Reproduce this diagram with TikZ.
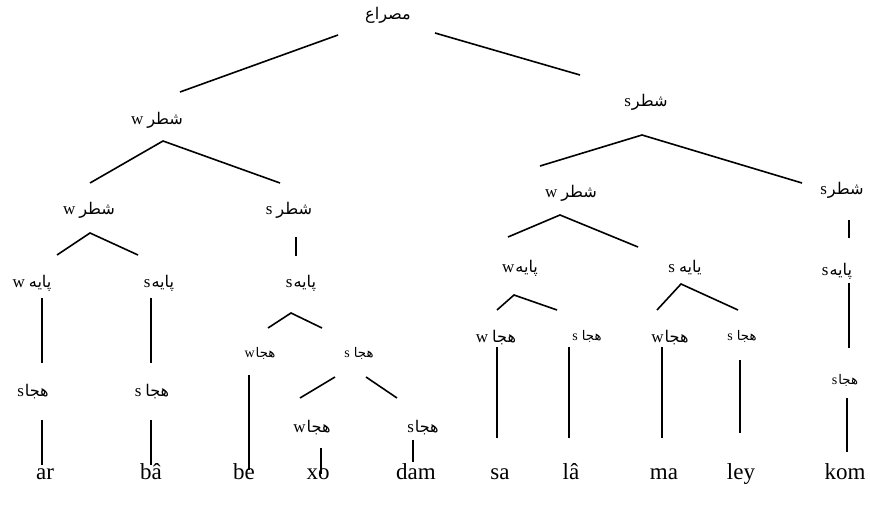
\documentclass[tikz,border=0pt]{standalone}
\usepackage{fontspec}
\setmainfont{Liberation Serif}
\newfontfamily\arfont[Script=Arabic,Scale=0.95]{DejaVu Sans}
\TeXXeTstate=1
\newcommand\lab[2]{#1\hspace{4pt}{\arfont\beginR #2\endR}}
\newcommand\labt[2]{#1\hspace{1pt}{\arfont\beginR #2\endR}}
\begin{document}
\begin{tikzpicture}[x=1pt,y=-1pt,
  lbl/.style={inner sep=0pt, font=\fontsize{17}{20}\selectfont},
  sml/.style={inner sep=0pt, font=\fontsize{14}{16}\selectfont},
  word/.style={inner sep=0pt, anchor=base, font=\fontsize{23}{27}\selectfont},
  edge/.style={line width=1.6pt}]
\useasboundingbox (0,0) rectangle (870,505);
% labels
\node[lbl] (M) at (388,15) {{\arfont\beginR مصراع\endR}};
\node[lbl] (SW) at (157,120) {\lab{w}{شطر}};
\node[lbl] (SS) at (646,102) {\labt{s}{شطر}};
\node[lbl] (SWW) at (89,210) {\lab{w}{شطر}};
\node[lbl] (SWS) at (289,210) {\lab{s}{شطر}};
\node[lbl] (SSW) at (571,193) {\lab{w}{شطر}};
\node[lbl] (SSS) at (842,190) {\labt{s}{شطر}};
\node[lbl] (P1) at (32,283) {\lab{w}{پایه}};
\node[lbl] (P2) at (159,283) {\labt{s}{پایه}};
\node[lbl] (P3) at (301,283) {\labt{s}{پایه}};
\node[lbl] (P4) at (520,268) {\labt{w}{پایه}};
\node[lbl] (P5) at (685,268) {\lab{s}{یایه}};
\node[lbl] (P6) at (837,271) {\labt{s}{پایه}};
\node[lbl] (H1) at (33,392) {\labt{s}{هجا}};
\node[lbl] (H2) at (152,392) {\lab{s}{هجا}};
\node[sml] (H3) at (260,353) {\labt{w}{هجا}};
\node[sml] (H4) at (359,353) {\lab{s}{هجا}};
\node[lbl] (H5) at (312,428) {\labt{w}{هجا}};
\node[lbl] (H6) at (423,428) {\labt{s}{هجا}};
\node[lbl] (H7) at (496,338) {\lab{w}{هجا}};
\node[sml] (H8) at (587,336) {\lab{s}{هجا}};
\node[lbl] (H9) at (670,338) {\labt{w}{هجا}};
\node[sml] (H10) at (742,336) {\lab{s}{هجا}};
\node[sml] (H11) at (845,380) {\labt{s}{هجا}};
% words
\node[word] (ar) at (45,479) {ar};
\node[word] (ba) at (151,479) {bâ};
\node[word] (be) at (244,479) {be};
\node[word] (xo) at (318,479) {xo};
\node[word] (dam) at (416,479) {dam};
\node[word] (sa) at (500,479) {sa};
\node[word] (la) at (571,479) {lâ};
\node[word] (ma) at (664,479) {ma};
\node[word] (ley) at (741,479) {ley};
\node[word] (kom) at (845,479) {kom};
% connectors
\draw[edge] (338,35) coordinate (M-l) -- (180,92) coordinate (SW-t);
\draw[edge] (435,33) coordinate (M-r) -- (580,75) coordinate (SS-t);
\draw[edge] (90,183) coordinate (SWW-t) -- (163,141) coordinate (SW-b) -- (280,183) coordinate (SWS-t);
\draw[edge] (540,166) coordinate (SSW-t) -- (642,135) coordinate (SS-b) -- (802,183) coordinate (SSS-t);
\draw[edge] (57,255) coordinate (P1-t) -- (90,233) coordinate (SWW-b) -- (138,255) coordinate (P2-t);
\draw[edge] (296,237) coordinate (SWS-b) -- (296,256) coordinate (P3-t);
\draw[edge] (508,237) coordinate (P4-t) -- (560,215) coordinate (SSW-b) -- (638,247) coordinate (P5-t);
\draw[edge] (849,220) coordinate (SSS-b) -- (849,238) coordinate (P6-t);
\draw[edge] (42,298) coordinate (P1-b) -- (42,363) coordinate (H1-t);
\draw[edge] (151,298) coordinate (P2-b) -- (151,363) coordinate (H2-t);
\draw[edge] (268,328) coordinate (H3-t) -- (291,313) coordinate (P3-b) -- (322,328) coordinate (H4-t);
\draw[edge] (497,310) coordinate (H7-t) -- (514,295) coordinate (P4-b) -- (557,310) coordinate (H8-t);
\draw[edge] (657,310) coordinate (H9-t) -- (681,284) coordinate (P5-b) -- (738,310) coordinate (H10-t);
\draw[edge] (849,283) coordinate (P6-b) -- (849,348) coordinate (H11-t);
\draw[edge] (42,420) coordinate (H1-b) -- (42,465) coordinate (ar-t);
\draw[edge] (151,420) coordinate (H2-b) -- (151,465) coordinate (ba-t);
\draw[edge] (249,375) coordinate (H3-b) -- (249,470) coordinate (be-t);
\draw[edge] (335,377) coordinate (H4-bl) -- (300,398) coordinate (H5-t);
\draw[edge] (366,377) coordinate (H4-br) -- (397,398) coordinate (H6-t);
\draw[edge] (321,448) coordinate (H5-b) -- (321,474) coordinate (xo-t);
\draw[edge] (413,440) coordinate (H6-b) -- (413,462) coordinate (dam-t);
\draw[edge] (497,347) coordinate (H7-b) -- (497,438) coordinate (sa-t);
\draw[edge] (569,347) coordinate (H8-b) -- (569,438) coordinate (la-t);
\draw[edge] (662,347) coordinate (H9-b) -- (662,438) coordinate (ma-t);
\draw[edge] (740,360) coordinate (H10-b) -- (740,433) coordinate (ley-t);
\draw[edge] (847,398) coordinate (H11-b) -- (847,452) coordinate (kom-t);
\end{tikzpicture}
\end{document}
